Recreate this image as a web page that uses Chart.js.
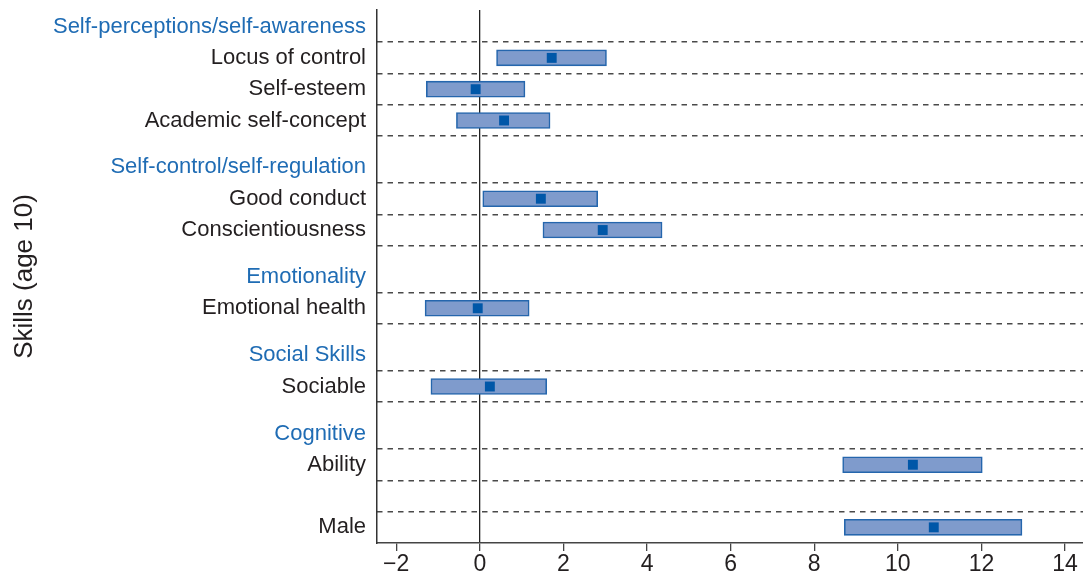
<!DOCTYPE html>
<html>
<head>
<meta charset="utf-8">
<script src="https://cdn.jsdelivr.net/npm/chart.js@4.4.1/dist/chart.umd.min.js"></script>
<style>
  html, body { margin: 0; padding: 0; background: #fff; }
  #wrap { width: 1083px; height: 585px; }
</style>
</head>
<body>
<div id="wrap"><canvas id="skillsChart"></canvas></div>
<script>
// rows of the y axis, top to bottom (group headings are blue)
const rowLabels = [
    'Self-perceptions/self-awareness', 'Locus of control', 'Self-esteem', 'Academic self-concept',
    'Self-control/self-regulation', 'Good conduct', 'Conscientiousness',
    'Emotionality', 'Emotional health',
    'Social Skills', 'Sociable',
    'Cognitive', 'Ability', '', 'Male'
];
const isGroup = [true, false, false, false, true, false, false, true, false, true, false, true, false, false, false];
const rowPos = [0, 1, 2, 3, 4.5, 5.5, 6.5, 8, 9, 10.5, 11.5, 13, 14, 15, 16];

// confidence interval and point estimate per row
const ciLow    = [null, 0.40, -1.28, -0.56, null, 0.07, 1.51, null, -1.31, null, -1.17, null, 8.68, null, 8.72];
const ciHigh   = [null, 3.03,  1.08,  1.68, null, 2.82, 4.36, null,  1.18, null,  1.60, null, 12.02, null, 12.97];
const estimate = [null, 1.72, -0.10,  0.58, null, 1.46, 2.94, null, -0.05, null,  0.24, null, 10.36, null, 10.86];

const xTicks = [-2, 0, 2, 4, 6, 8, 10, 12, 14];

const FONT = "'Liberation Sans', Arial, sans-serif";

// bars and markers
const barData = [];
const pointData = [];
rowPos.forEach(function(p, i) {
    if (ciLow[i] !== null) {
        barData.push({ x: [ciLow[i], ciHigh[i]], y: p });
        pointData.push({ x: estimate[i], y: p });
    }
});

// dashed separators sit half a row above and below each item row
const separators = [];
rowPos.forEach(function(p, i) {
    if (isGroup[i]) return;
    [p - 0.5, p + 0.5].forEach(function(v) {
        if (v < 16.5 && separators.indexOf(v) < 0) separators.push(v);
    });
});

const yMin = -0.53, yMax = 16.5;

function noPadding(scale) {
    scale.paddingTop = 0;
    scale.paddingBottom = 0;
    scale.paddingLeft = 0;
    scale.paddingRight = 0;
}

new Chart(document.getElementById('skillsChart'), {
    data: {
        datasets: [
            {
                type: 'scatter',
                data: pointData,
                backgroundColor: '#0057a8',
                borderWidth: 0,
                pointStyle: 'rect',
                pointRadius: 7,
                order: 0
            },
            {
                type: 'bar',
                indexAxis: 'y',
                data: barData,
                backgroundColor: '#7f9bcc',
                borderColor: '#2566ad',
                borderWidth: 1.6,
                borderSkipped: false,
                barThickness: 16,
                order: 1
            }
        ]
    },
    options: {
        responsive: true,
        maintainAspectRatio: false,
        animation: false,
        layout: { autoPadding: false, padding: { top: 10, right: 0, bottom: 0, left: 0 } },
        plugins: {
            legend: { display: false },
            tooltip: { enabled: false }
        },
        scales: {
            x: {
                type: 'linear',
                min: -2.46,
                max: 14.43,
                offset: false,
                afterBuildTicks: function(scale) {
                    scale.ticks = xTicks.map(function(v) { return { value: v }; });
                },
                afterFit: function(scale) { scale.height = 42; noPadding(scale); },
                ticks: {
                    color: '#231f20',
                    font: { family: FONT, size: 23 },
                    padding: 0,
                    callback: function(v) { return v < 0 ? '\u2212' + Math.abs(v) : String(v); }
                },
                grid: {
                    offset: false,
                    color: function(ctx) { return ctx.tick && ctx.tick.value === 0 ? '#222' : 'rgba(0,0,0,0)'; },
                    lineWidth: 1.3,
                    tickColor: '#444',
                    tickLength: 8,
                    drawTicks: true
                },
                border: { display: true, color: '#444', width: 1.5 }
            },
            y: {
                type: 'linear',
                position: 'left',
                reverse: true,
                min: yMin,
                max: yMax,
                offset: false,
                afterBuildTicks: function(scale) {
                    scale.ticks = rowPos.map(function(v) { return { value: v }; });
                },
                afterFit: function(scale) { scale.width = 377; noPadding(scale); },
                ticks: {
                    autoSkip: false,
                    padding: 11,
                    font: { family: FONT, size: 22 },
                    color: function(ctx) { return isGroup[ctx.index] ? '#1f6cb4' : '#231f20'; },
                    callback: function(v, i) { return rowLabels[i]; }
                },
                grid: { display: false, drawTicks: false, offset: false },
                border: { display: true, color: '#333', width: 1.5 },
                title: {
                    display: true,
                    text: 'Skills (age 10)',
                    color: '#231f20',
                    font: { family: FONT, size: 26 },
                    padding: { top: 9, bottom: 0 }
                }
            },
            yGrid: {
                type: 'linear',
                position: 'left',
                reverse: true,
                min: yMin,
                max: yMax,
                offset: false,
                afterBuildTicks: function(scale) {
                    scale.ticks = separators.map(function(v) { return { value: v }; });
                },
                afterFit: function(scale) { scale.width = 0; noPadding(scale); },
                ticks: { display: false },
                grid: { color: '#4a4a4a', lineWidth: 1.5, drawTicks: false, offset: false },
                border: { display: false, dash: [5.5, 5] }
            }
        }
    }
});
</script>
</body>
</html>
